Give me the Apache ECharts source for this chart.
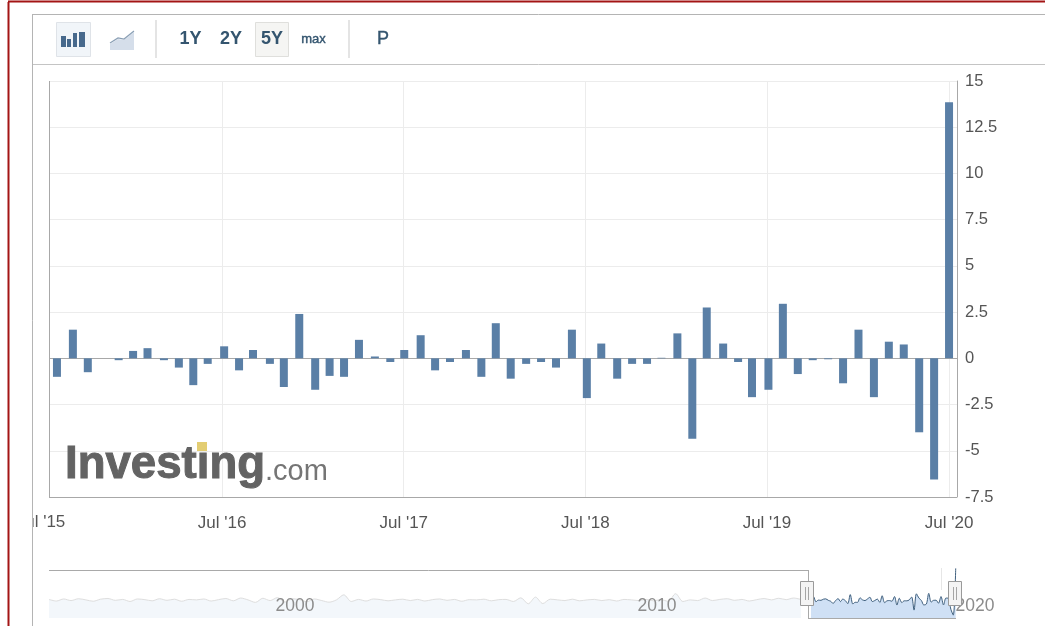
<!DOCTYPE html>
<html>
<head>
<meta charset="utf-8">
<style>html,body{margin:0;padding:0;background:#fff}#c{width:1045px;height:626px}</style>
<script src="https://cdn.jsdelivr.net/npm/echarts@6/dist/echarts.min.js"></script>
</head>
<body>
<div id="c"></div>
<script>
var releaseDates = [
'2015-08-04','2015-09-05','2015-10-05','2015-11-03','2015-12-06',
'2016-01-04','2016-02-02','2016-03-06','2016-04-05','2016-05-04','2016-06-02','2016-07-05','2016-08-04','2016-09-01','2016-10-05','2016-11-02','2016-12-03',
'2017-01-04','2017-02-02','2017-03-03','2017-04-02','2017-05-04','2017-06-04','2017-07-02','2017-08-04','2017-09-02','2017-10-02','2017-11-03','2017-12-04',
'2018-01-02','2018-02-01','2018-03-04','2018-04-03','2018-05-03','2018-06-04','2018-07-04','2018-08-02','2018-09-03','2018-10-03','2018-11-02','2018-12-01',
'2019-01-02','2019-02-01','2019-03-02','2019-04-04','2019-05-04','2019-06-01','2019-07-04','2019-08-02','2019-09-01','2019-10-01','2019-11-01','2019-12-01',
'2020-01-01','2020-02-01','2020-03-02','2020-04-01','2020-05-02','2020-06-01','2020-07-01'];
var changeValues = [
-1.0,1.55,-0.75,0,-0.1,
0.4,0.55,-0.1,-0.5,-1.45,-0.3,0.65,-0.65,0.45,-0.3,-1.55,2.4,
-1.7,-0.95,-1.0,1.0,0.1,-0.2,0.45,1.25,-0.65,-0.2,0.45,-1.0,
1.9,-1.1,-0.3,-0.2,-0.5,1.55,-2.15,0.8,-1.1,-0.3,-0.3,0.03,
1.35,-4.35,2.75,0.8,-0.2,-2.1,-1.7,2.95,-0.85,-0.1,-0.05,-1.35,
1.55,-2.1,0.9,0.75,-4.0,-6.55,13.85];
var yearTicks = ['2016-07-01','2017-07-01','2018-07-01','2019-07-01','2020-07-01'];
var navHistory = [
0.3,-0.4,0.5,-0.2,0.6,0.1,-0.5,0.4,0.7,-0.1,0.3,-0.6,0.5,0.2,-0.3,0.6,-0.1,0.4,-0.5,0.3,
0.1,0.5,-0.4,0.2,0.7,-0.3,0.9,0.1,-1.0,0.8,-0.2,1.1,-0.9,0.6,0.2,-0.7,0.5,-0.2,-0.9,0.1,
2.3,-0.6,0.3,-0.4,0.5,0.2,-0.3,0.1,0.4,-0.2,0.3,-0.4,0.2,0.5,-0.1,0.3,-0.5,0.2,0.1,0.4,
-0.3,0.2,0.3,-0.6,1.0,-1.6,1.3,-1.5,0.4,0.1,-0.2,0.4,-0.3,0.1,0.3,-0.2,0.2,-0.4,0.3,0.1,
-0.2,0.3,-0.3,0.2,-0.5,2.8,-0.6,0.1,-0.2,0.9,-0.2,0.3,0.6,-0.1,0.3,-0.4,0.2,0.7,0.1,0.8,
0.2,0.9,0.3];
var navLabels = ['2000','2010','2020'];
var rangeButtons = ['1Y','2Y','5Y','max','P'];

var d2t = function (s) { return Date.parse(s + 'T00:00:00Z'); };
var ts = releaseDates.map(d2t);
var mainData = ts.map(function (t, i) { return [t, changeValues[i]]; });
var navStart = Date.UTC(1989, 9, 1);
var navOld = navHistory.map(function (v, i) { return [Date.UTC(1989, 9 + i * 3, 1), v]; });
var navNew = mainData;
var fontA = '"Liberation Sans", sans-serif';
var btnColor = '#34556f', frame = '#b4b4b4';

function ln(x1, y1, x2, y2, c, w) {
  return { type: 'line', silent: true, z: 20, shape: { x1: x1, y1: y1, x2: x2, y2: y2 }, style: { stroke: c, lineWidth: w || 1 } };
}
function rc(x, y, w, h, fill, stroke, z) {
  return { type: 'rect', silent: true, z: z || 20, shape: { x: x, y: y, width: w, height: h }, style: { fill: fill, stroke: stroke || null, lineWidth: 1 } };
}
function tx(t, x, y, size, color, weight, align, z, stroke) {
  var st = { text: t, font: (weight || 'normal') + ' ' + size + 'px ' + fontA, fill: color, textAlign: align || 'center', textVerticalAlign: 'middle' };
  if (stroke) { st.stroke = color; st.lineWidth = stroke; }
  return { type: 'text', silent: true, z: z || 21, x: x, y: y, style: st };
}
var g = [];
// page and panel frames
g.push(tx("Jul '15", 41, 522, 17, '#555'));
g.push(rc(0, 0, 32, 626, '#fff', null, 22));
g.push(Object.assign(ln(8.5, 2, 8.5, 626, '#a31515', 2), { z: 23 }));
g.push(Object.assign(ln(8, 1.5, 1045, 1.5, '#a31515', 2), { z: 23 }));
g.push(Object.assign(ln(32.5, 14.5, 32.5, 626, frame), { z: 23 }));
g.push(ln(32, 14.5, 1045, 14.5, frame));
g.push(ln(32, 64.5, 1045, 64.5, '#c4c4c4'));
// toolbar
g.push(rc(56.5, 22.5, 34, 34, '#f1f5f9', '#dfe3e8'));
[[61, 36, 5, 11], [67, 39, 4, 8], [73, 33, 4, 14], [79, 32, 6, 15]].forEach(function (b) { g.push(rc(b[0], b[1], b[2], b[3], '#47698c', null, 21)); });
g.push({ type: 'polygon', silent: true, z: 21, shape: { points: [[110, 44], [118, 39], [124, 40], [134, 32], [134, 50], [110, 50]] }, style: { fill: '#d5deea' } });
g.push({ type: 'polyline', silent: true, z: 22, shape: { points: [[110, 43], [118, 38], [124, 39], [134, 31]] }, style: { stroke: '#8a9fb5', fill: null, lineWidth: 1.2 } });
g.push(ln(156, 20, 156, 58, '#c9c9c9'));
g.push(ln(349, 20, 349, 58, '#c9c9c9'));
g.push(rc(255.5, 22.5, 33, 34, '#f5f5f3', '#dfdfdc'));
g.push(tx(rangeButtons[0], 190.5, 39, 18, btnColor, 'bold'));
g.push(tx(rangeButtons[1], 231, 39, 18, btnColor, 'bold'));
g.push(tx(rangeButtons[2], 272, 39, 18, btnColor, 'bold'));
g.push(tx(rangeButtons[3], 313.5, 39.5, 13, btnColor, 'normal', 'center', 21, 0.4));
g.push(tx(rangeButtons[4], 383, 39, 18, btnColor, 'normal', 'center', 21, 0.4));
// watermark
g.push(tx('Investing', 65, 465, 45.6, '#636363', 'bold', 'left', 1, 1));
g.push(tx('.com', 265, 472, 29, '#757575', 'normal', 'left', 1));
g.push({ type: 'rect', silent: true, z: 2, shape: { x: 197, y: 442, width: 10, height: 9 }, style: { fill: '#e3cd72' } });
// navigator frame
g.push(ln(49, 570.5, 808, 570.5, '#a9a9a9'));
g.push(ln(808.5, 570, 808.5, 618, '#a9a9a9'));
g.push(ln(808, 618.5, 956, 618.5, '#a9a9a9'));
g.push(ln(941.5, 568, 941.5, 590, '#e6e6e6'));
g.push(tx(navLabels[0], 295, 606, 17.5, '#8c8c8c'));
g.push(tx(navLabels[1], 657, 606, 17.5, '#8c8c8c'));
g.push(tx(navLabels[2], 975, 606, 17.5, '#8c8c8c'));
[800.5, 948.5].forEach(function (x) {
  g.push(rc(x, 581.5, 13, 24, '#f4f4f4', '#9a9a9a', 24));
  g.push(Object.assign(ln(x + 5, 587, x + 5, 600, '#a5a5a5'), { z: 25 }));
  g.push(Object.assign(ln(x + 8, 587, x + 8, 600, '#a5a5a5'), { z: 25 }));
});

var axisMin = d2t('2015-07-19'), axisMax = d2t('2020-07-17');
var option = {
  animation: false,
  backgroundColor: '#fff',
  textStyle: { fontFamily: fontA },
  grid: [
    { left: 49, right: 88, top: 81, height: 416 },
    { left: 49, right: 88, top: 568, height: 50 }
  ],
  xAxis: [
    { type: 'value', gridIndex: 0, min: axisMin, max: axisMax, scale: true,
      axisLine: { show: false }, axisTick: { show: false, customValues: yearTicks.map(d2t) },
      splitLine: { show: true, lineStyle: { color: '#ececec', width: 1 } },
      axisLabel: { customValues: yearTicks.map(d2t), showMinLabel: true, showMaxLabel: true, hideOverlap: false,
        color: '#555', fontSize: 17, margin: 18,
        formatter: function (v) { return "Jul '" + String(new Date(v).getUTCFullYear()).slice(2); } } },
    { type: 'value', gridIndex: 1, min: navStart, max: axisMax, scale: true, show: false }
  ],
  yAxis: [
    { type: 'value', gridIndex: 0, position: 'right', min: -7.5, max: 15, interval: 2.5,
      axisLine: { show: true, lineStyle: { color: '#a8a8a8' } }, axisTick: { show: false },
      splitLine: { show: true, lineStyle: { color: '#ececec', width: 1 } },
      axisLabel: { color: '#555', fontSize: 16.5, margin: 8 } },
    { type: 'value', gridIndex: 1, min: -7.8, max: 14, show: false }
  ],
  series: [
    { type: 'bar', name: 'Change', xAxisIndex: 0, yAxisIndex: 0, data: mainData, barWidth: 8,
      itemStyle: { color: '#5a7fa6' }, z: 5,
      markLine: { silent: true, symbol: 'none', label: { show: false }, animation: false,
        lineStyle: { color: '#a8a8a8', type: 'solid', width: 1 },
        data: [{ yAxis: 0 }, { yAxis: -7.5 }, { xAxis: axisMin }] } },
    { type: 'line', name: 'History', xAxisIndex: 1, yAxisIndex: 1, data: navOld, showSymbol: false, smooth: 0.3,
      lineStyle: { color: '#dedede', width: 1 }, areaStyle: { color: '#f3f7fb', origin: 'start', opacity: 1 } },
    { type: 'line', name: 'Selected', xAxisIndex: 1, yAxisIndex: 1, data: navNew, showSymbol: false, smooth: 0.3,
      lineStyle: { color: '#3f5f7d', width: 1 }, areaStyle: { color: '#cfe0f5', origin: 'start', opacity: 1 } }
  ],
  graphic: { elements: g }
};
var chart = echarts.init(document.getElementById('c'), null, { renderer: 'canvas' });
chart.setOption(option);
</script>
</body>
</html>
